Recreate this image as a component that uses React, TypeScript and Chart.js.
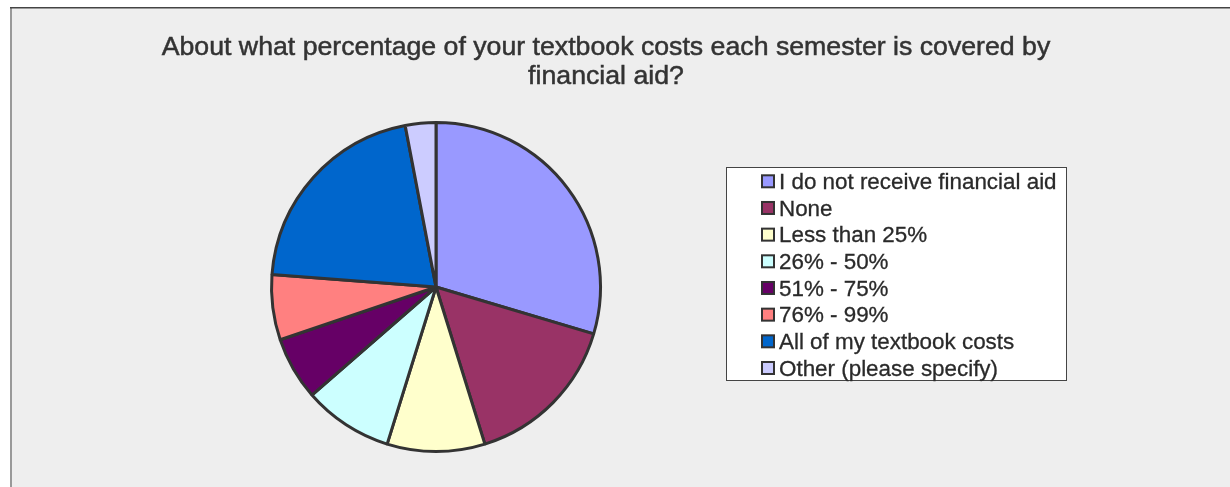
import React, { useEffect, useRef } from "react";
import { Chart, registerables } from "chart.js";

Chart.register(...registerables);

const titleLines = [
  "About what percentage of your textbook costs each semester is covered by",
  "financial aid?",
];
const categories = [
  "I do not receive financial aid",
  "None",
  "Less than 25%",
  "26% - 50%",
  "51% - 75%",
  "76% - 99%",
  "All of my textbook costs",
  "Other (please specify)",
];
const shares = [29.6, 15.6, 9.6, 8.8, 6.2, 6.4, 20.8, 3.0];
const sliceColors = [
  "#9999FF",
  "#993366",
  "#FFFFCC",
  "#CCFFFF",
  "#660066",
  "#FF8080",
  "#0066CC",
  "#CCCCFF",
];

const FONT = '"Liberation Sans", Arial, Helvetica, sans-serif';

const framePlugin = {
  id: "frame",
  beforeDraw(chart: any) {
    const ctx = chart.ctx;
    ctx.save();
    ctx.fillStyle = "#ffffff";
    ctx.fillRect(0, 0, chart.width, chart.height);
    ctx.fillStyle = "#EEEEEE";
    ctx.fillRect(10, 8, chart.width - 10, chart.height - 8);
    ctx.fillStyle = "#999999";
    ctx.fillRect(10, 8, 2, chart.height - 8);
    ctx.fillStyle = "#444444";
    ctx.fillRect(10, 7, chart.width - 10, 1.5);
    ctx.restore();
  },
  afterDraw(chart: any) {
    const ctx = chart.ctx;
    ctx.save();
    // title
    ctx.fillStyle = "#333333";
    ctx.strokeStyle = "#333333";
    ctx.lineWidth = 0.5;
    ctx.font = `26.7px ${FONT}`;
    ctx.textAlign = "center";
    ctx.textBaseline = "alphabetic";
    titleLines.forEach((line, i) => {
      ctx.fillText(line, 606, 55 + i * 29);
      ctx.strokeText(line, 606, 55 + i * 29);
    });
    // legend box
    ctx.fillStyle = "#ffffff";
    ctx.fillRect(726.5, 167.5, 340, 213);
    ctx.strokeStyle = "#444444";
    ctx.lineWidth = 1;
    ctx.strokeRect(726.5, 167.5, 340, 213);
    const labels = chart.data.labels as string[];
    const colors = chart.data.datasets[0].backgroundColor as string[];
    ctx.font = `22.4px ${FONT}`;
    ctx.textAlign = "left";
    labels.forEach((lab, i) => {
      const cy = 181.3 + i * 26.67;
      ctx.fillStyle = colors[i];
      ctx.fillRect(762, cy - 6, 12, 12);
      ctx.strokeStyle = "#333333";
      ctx.lineWidth = 2;
      ctx.strokeRect(762, cy - 6, 12, 12);
      ctx.fillStyle = "#2a2a2a";
      ctx.strokeStyle = "#2a2a2a";
      ctx.lineWidth = 0.3;
      ctx.fillText(lab, 779, cy + 7.8);
      ctx.strokeText(lab, 779, cy + 7.8);
    });
    ctx.restore();
  },
};

export default function App() {
  const ref = useRef<HTMLCanvasElement | null>(null);
  useEffect(() => {
    if (!ref.current) return;
    const chart = new Chart(ref.current, {
      type: "pie",
      data: {
        labels: categories,
        datasets: [
          {
            data: shares,
            backgroundColor: sliceColors,
            borderColor: "#333333",
            borderWidth: 3,
          },
        ],
      },
      options: {
        responsive: false,
        animation: false,
        devicePixelRatio: 1,
        layout: { padding: { left: 270, right: 628, top: 121, bottom: 34 } },
        plugins: {
          legend: { display: false },
          title: { display: false },
          tooltip: { enabled: false },
        },
      },
      plugins: [framePlugin],
    });
    return () => chart.destroy();
  }, []);
  return (
    <div style={{ position: "absolute", left: 0, top: 0, width: 1230, height: 487 }}>
      <canvas ref={ref} width={1230} height={487} style={{ display: "block" }} />
    </div>
  );
}
